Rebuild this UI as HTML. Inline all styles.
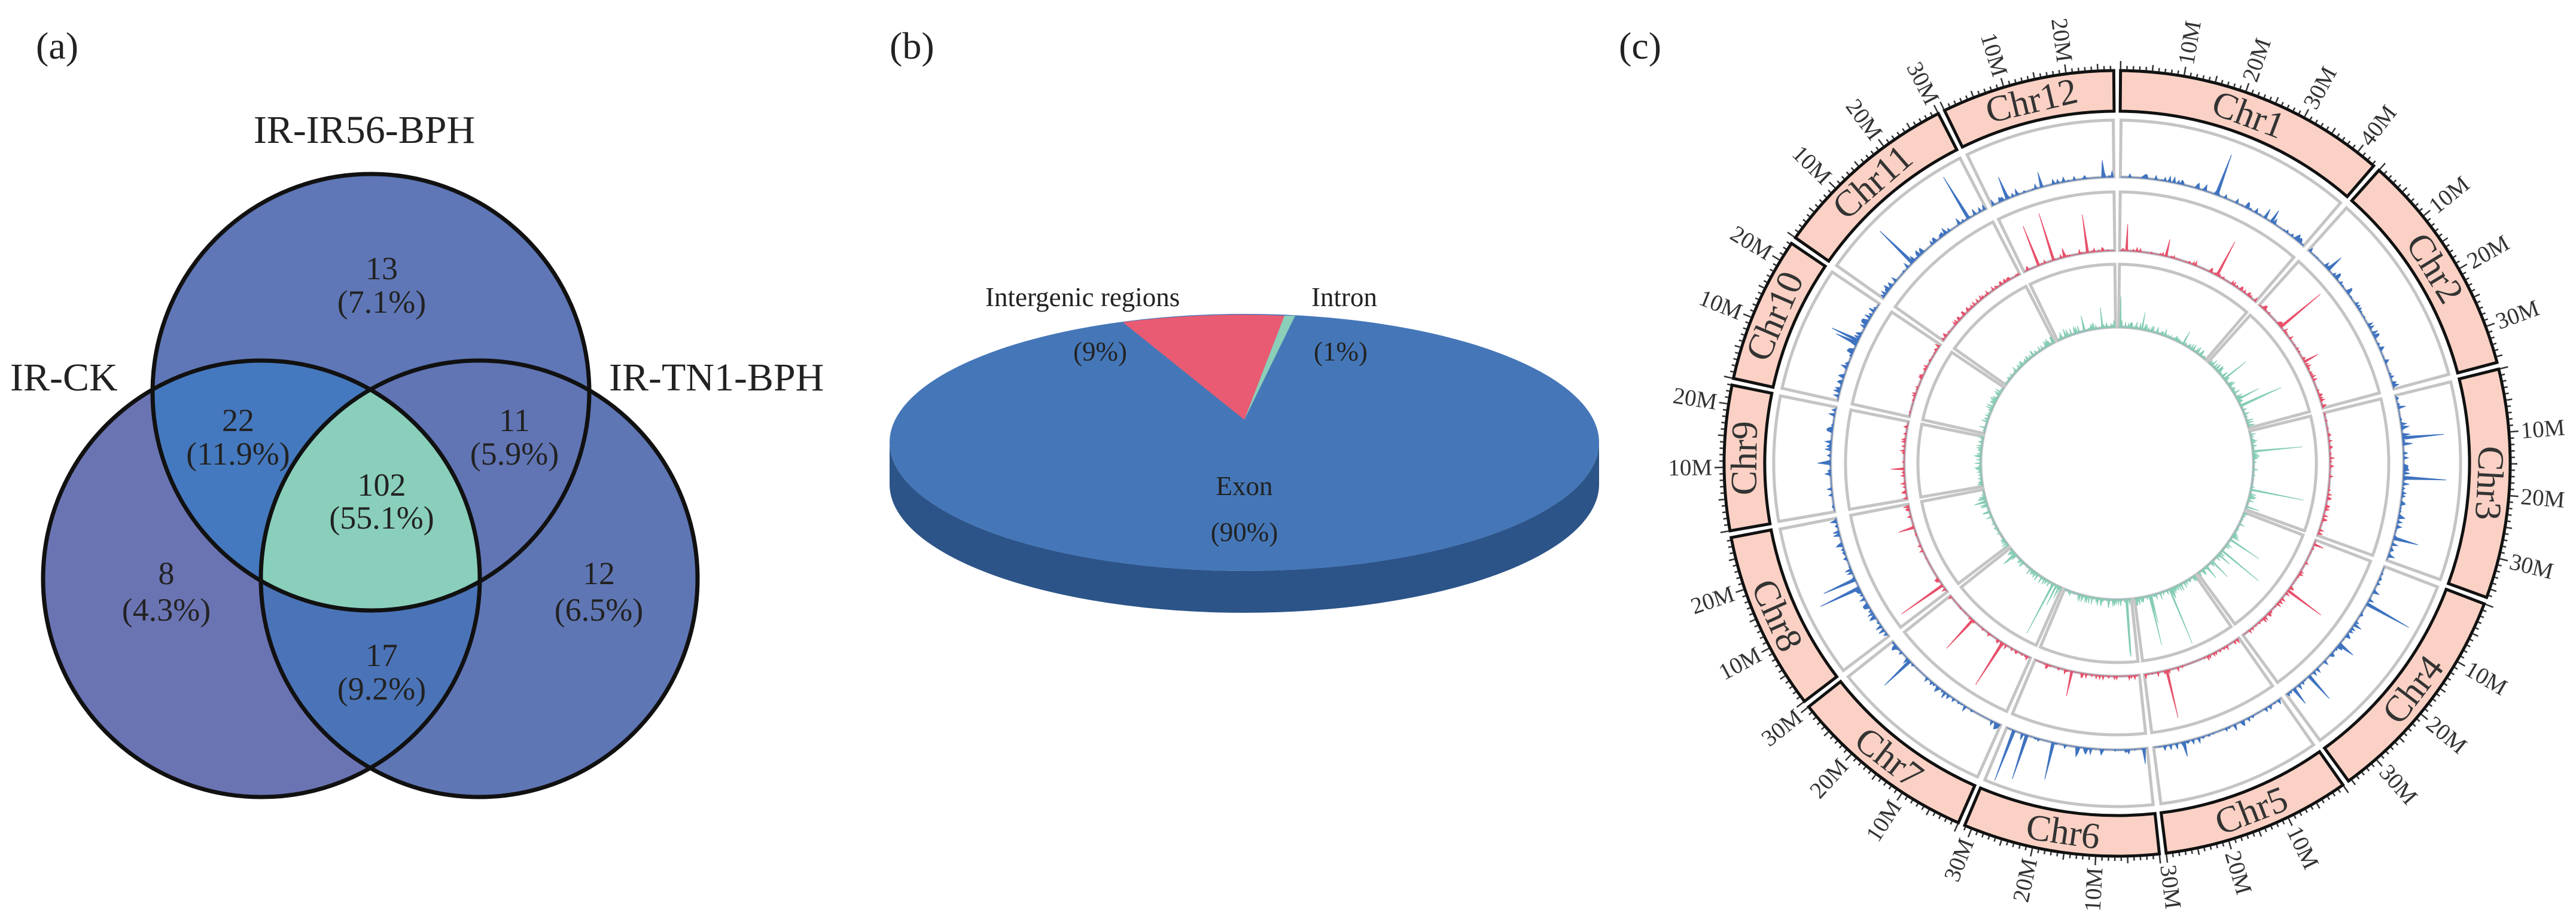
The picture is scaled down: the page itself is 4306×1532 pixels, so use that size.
<!DOCTYPE html>
<html><head><meta charset="utf-8"><style>
html,body{margin:0;padding:0;background:#fff;}
svg{display:block;}
text{font-family:"Liberation Serif","DejaVu Serif",serif;fill:#222;}
.tl{font-size:39px;fill:#333;}
.chr{font-size:62px;fill:#333;}
</style></head><body>
<svg id="s" width="4306" height="1532" viewBox="0 0 4306 1532" xmlns="http://www.w3.org/2000/svg">
<rect width="4306" height="1532" fill="#fff"/>
<defs>
<clipPath id="cL"><circle cx="437" cy="968" r="365"/></clipPath>
<clipPath id="cT"><circle cx="620" cy="656" r="365"/></clipPath>
<clipPath id="cR"><circle cx="801" cy="968" r="365"/></clipPath>
</defs>
<text x="60" y="98" font-size="64">(a)</text>
<circle cx="437" cy="968" r="365" fill="#6b74b3"/>
<circle cx="801" cy="968" r="365" fill="#5f76b5"/>
<circle cx="620" cy="656" r="365" fill="#5f77b7"/>
<circle cx="620" cy="656" r="365" fill="#4579bf" clip-path="url(#cL)"/>
<circle cx="620" cy="656" r="365" fill="#6175b5" clip-path="url(#cR)"/>
<circle cx="437" cy="968" r="365" fill="#4b74b8" clip-path="url(#cR)"/>
<g clip-path="url(#cR)"><circle cx="620" cy="656" r="365" fill="#89cfbc" clip-path="url(#cL)"/></g>
<g fill="none" stroke="#111" stroke-width="7">
<circle cx="437" cy="968" r="365"/><circle cx="801" cy="968" r="365"/><circle cx="620" cy="656" r="365"/>
</g>
<g font-size="66">
<text x="609" y="239" text-anchor="middle">IR-IR56-BPH</text>
<text x="17" y="653">IR-CK</text>
<text x="1018" y="653">IR-TN1-BPH</text>
</g>
<g font-size="54" text-anchor="middle">
<text x="638" y="467">13</text><text x="638" y="523">(7.1%)</text>
<text x="398" y="721">22</text><text x="398" y="777">(11.9%)</text>
<text x="638" y="829">102</text><text x="638" y="884">(55.1%)</text>
<text x="860" y="721">11</text><text x="860" y="777">(5.9%)</text>
<text x="278" y="977">8</text><text x="278" y="1038">(4.3%)</text>
<text x="1001" y="977">12</text><text x="1001" y="1038">(6.5%)</text>
<text x="638" y="1114">17</text><text x="638" y="1170">(9.2%)</text>
</g>
<text x="1487" y="98" font-size="64">(b)</text>
<path d="M1487,740 A593,215 0 0 0 2673,740 L2673,810 A593,215 0 0 1 1487,810 Z" fill="#2c5488"/>
<ellipse cx="2080" cy="740" rx="593" ry="215" fill="#4577b8"/>
<path d="M2080,702 L1877,539 A593,215 0 0 1 2147,528 Z" fill="#e95b72"/>
<path d="M2080,702 L2147,528 A593,215 0 0 1 2165,528 Z" fill="#8ccfb8"/>
<g font-size="45">
<text x="1647" y="512">Intergenic regions</text>
<text x="2192" y="512">Intron</text>
<text x="1794" y="603">(9%)</text>
<text x="2196" y="603">(1%)</text>
<text x="2080" y="828" text-anchor="middle">Exon</text>
<text x="2080" y="905" text-anchor="middle">(90%)</text>
</g>
<text x="2706" y="98" font-size="64">(c)</text>
<g id="cells"></g>
<g id="data"></g>
<g id="boxes"></g>
<g id="ticks"></g>
<g id="chrl">
<text class="chr" c="0">Chr1</text><text class="chr" c="1">Chr2</text><text class="chr" c="2">Chr3</text>
<text class="chr" c="3">Chr4</text><text class="chr" c="4">Chr5</text><text class="chr" c="5">Chr6</text>
<text class="chr" c="6">Chr7</text><text class="chr" c="7">Chr8</text><text class="chr" c="8">Chr9</text>
<text class="chr" c="9">Chr10</text><text class="chr" c="10">Chr11</text><text class="chr" c="11">Chr12</text>
</g>
<g id="tls">
<text class="tl" c="0" m="10">10M</text><text class="tl" c="0" m="20">20M</text><text class="tl" c="0" m="30">30M</text><text class="tl" c="0" m="40">40M</text>
<text class="tl" c="1" m="10">10M</text><text class="tl" c="1" m="20">20M</text><text class="tl" c="1" m="30">30M</text>
<text class="tl" c="2" m="10">10M</text><text class="tl" c="2" m="20">20M</text><text class="tl" c="2" m="30">30M</text>
<text class="tl" c="3" m="10">10M</text><text class="tl" c="3" m="20">20M</text><text class="tl" c="3" m="30">30M</text>
<text class="tl" c="4" m="10">10M</text><text class="tl" c="4" m="20">20M</text><text class="tl" c="4" m="30">30M</text>
<text class="tl" c="5" m="10">10M</text><text class="tl" c="5" m="20">20M</text><text class="tl" c="5" m="30">30M</text>
<text class="tl" c="6" m="10">10M</text><text class="tl" c="6" m="20">20M</text><text class="tl" c="6" m="30">30M</text>
<text class="tl" c="7" m="10">10M</text><text class="tl" c="7" m="20">20M</text>
<text class="tl" c="8" m="10">10M</text><text class="tl" c="8" m="20">20M</text>
<text class="tl" c="9" m="10">10M</text><text class="tl" c="9" m="20">20M</text>
<text class="tl" c="10" m="10">10M</text><text class="tl" c="10" m="20">20M</text><text class="tl" c="10" m="30">30M</text>
<text class="tl" c="11" m="10">10M</text><text class="tl" c="11" m="20">20M</text>
</g>
</svg>
<script>
(function(){
var NS='http://www.w3.org/2000/svg';
var cx=3539, cy=775;
var L=[43.3,35.9,36.4,35.5,30.0,31.2,30.0,28.4,23.0,23.2,30.0,27.5];
var tot=0; L.forEach(function(l){tot+=l;});
var gap=1.0, dpm=(360-12*gap)/tot;
var starts=[], a=gap/2;
L.forEach(function(l){starts.push(a); a+=l*dpm+gap;});
function pt(r,deg){var t=deg*Math.PI/180; return [cx+r*Math.sin(t), cy-r*Math.cos(t)];}
function f(p){return p[0].toFixed(1)+','+p[1].toFixed(1);}
function sector(r1,r2,a1,a2){
  var p1=pt(r2,a1),p2=pt(r2,a2),p3=pt(r1,a2),p4=pt(r1,a1),lg=(a2-a1)>180?1:0;
  return 'M'+f(p1)+' A'+r2+','+r2+' 0 '+lg+' 1 '+f(p2)+' L'+f(p3)+' A'+r1+','+r1+' 0 '+lg+' 0 '+f(p4)+'Z';
}
function el(tag,attrs,parent){var e=document.createElementNS(NS,tag);for(var k in attrs)e.setAttribute(k,attrs[k]);parent.appendChild(e);return e;}
var cells=document.getElementById('cells'), data=document.getElementById('data'), boxes=document.getElementById('boxes'), ticks=document.getElementById('ticks');
var tracks=[[479,574],[356,454],[228,333]];
for(var c=0;c<12;c++){
  var s=starts[c], e=s+L[c]*dpm;
  tracks.forEach(function(t){el('path',{d:sector(t[0],t[1],s+0.15,e-0.15),fill:'none',stroke:'#c4c4c4','stroke-width':5},cells);});
  el('path',{d:sector(589,657,s,e),fill:'#fad1c4',stroke:'#111','stroke-width':5},boxes);
  var td='';
  for(var m=0;m<=L[c]+0.001;m+=1){
    var len=(m%10===0)?14:((m%5===0)?10:6);
    var ang=s+m*dpm; var p1=pt(659,ang), p2=pt(659+len,ang);
    td+='M'+f(p1)+'L'+f(p2);
  }
  el('path',{d:td,stroke:'#333','stroke-width':2.5,fill:'none'},ticks);
}
function rng(seed){return function(){seed|=0;seed=seed+0x6D2B79F5|0;var t=Math.imul(seed^seed>>>15,1|seed);t=t+Math.imul(t^t>>>7,61|t)^t;return((t^t>>>14)>>>0)/4294967296;};}
function track(r0,H,color,seed,pS,noise,pw,pN){
  var R=rng(seed), d='';
  for(var c=0;c<12;c++){
    var s=starts[c]+0.2, e=starts[c]+L[c]*dpm-0.2, n=Math.round(L[c]*3);
    var pts=[], base=[];
    for(var i=0;i<=n;i++){
      var ang=s+(e-s)*i/n;
      var r=R(), v;
      if(r<pS) v=Math.pow(R(),pw);
      else if(r<pS+pN) v=R()*noise;
      else v=0;
      if(i===0||i===n)v=0;
      pts.push(f(pt(r0+v*H,ang)));
    }
    for(var j=n;j>=0;j--)base.push(f(pt(r0,s+(e-s)*j/n)));
    d+='M'+pts.join('L')+'L'+base.join('L')+'Z';
    el('path',{d:'M'+base.slice().reverse().join('L'),fill:'none',stroke:'#9aa6c0','stroke-width':2},data);
  }
  el('path',{d:d,fill:color,stroke:color,'stroke-width':1},data);
}
track(479,92,'#3f73c0',11,0.045,0.12,2.0,0.35);
track(356,95,'#e8506a',23,0.018,0.08,2.2,0.3);
track(228,100,'#85cdb4',37,0.04,0.12,2.2,0.4);
document.querySelectorAll('text.chr').forEach(function(t){
  var c=+t.getAttribute('c'), mid=starts[c]+L[c]*dpm/2, p=pt(623,mid);
  var rot=(mid>100&&mid<260)?mid+180:mid;
  t.setAttribute('text-anchor','middle');t.setAttribute('dominant-baseline','central');
  t.setAttribute('transform','translate('+p[0].toFixed(1)+','+p[1].toFixed(1)+') rotate('+rot.toFixed(2)+')');
});
document.querySelectorAll('text.tl').forEach(function(t){
  var c=+t.getAttribute('c'), m=+t.getAttribute('m'), ang=starts[c]+m*dpm, p=pt(677,ang);
  t.setAttribute('dominant-baseline','central');
  if(ang<180){t.setAttribute('text-anchor','start');t.setAttribute('transform','translate('+p[0].toFixed(1)+','+p[1].toFixed(1)+') rotate('+(ang-90).toFixed(2)+')');}
  else{t.setAttribute('text-anchor','end');t.setAttribute('transform','translate('+p[0].toFixed(1)+','+p[1].toFixed(1)+') rotate('+(ang+90).toFixed(2)+')');}
});
})();
</script>
</body></html>
